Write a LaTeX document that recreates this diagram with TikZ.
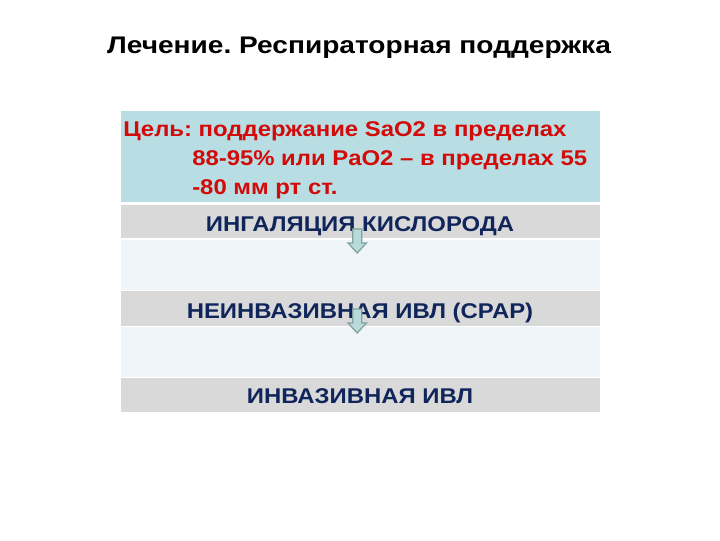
\documentclass[tikz,border=0pt]{standalone}
\usepackage{fontspec}
\setmainfont{Liberation Sans}
\newfontfamily\bodywide[FakeStretch=1.12]{Liberation Sans}
\newfontfamily\titlewide[FakeStretch=1.17]{Liberation Sans}
\definecolor{rowcyan}{RGB}{184,221,226}
\definecolor{rowgray}{RGB}{217,217,217}
\definecolor{rowlight}{RGB}{240,245,249}
\definecolor{goalred}{RGB}{210,10,10}
\definecolor{navytxt}{RGB}{16,38,90}
\definecolor{arrfill}{RGB}{184,218,218}
\definecolor{arrline}{RGB}{130,160,160}
\frenchspacing
\begin{document}
\begin{tikzpicture}[x=0.75pt,y=-0.75pt,
  title/.style={inner sep=0,anchor=base,font=\titlewide\bfseries\fontsize{18}{21}\selectfont,text=black},
  goal/.style={inner sep=0,anchor=base west,font=\bodywide\bfseries\fontsize{16}{19}\selectfont,text=goalred},
  stage/.style={inner sep=0,anchor=base,font=\bodywide\bfseries\fontsize{16}{19}\selectfont,text=navytxt},
  blockarrow/.style={fill=arrfill,draw=arrline,line width=0.9pt,line join=miter}]
\useasboundingbox (0,0) rectangle (720,540);
\fill[white] (0,0) rectangle (720,540);
% rows
\fill[rowcyan]  (121,111) rectangle (600,202);
\fill[rowgray]  (121,205) rectangle (600,238);
\fill[rowlight] (121,240) rectangle (600,290);
\fill[rowgray]  (121,291) rectangle (600,325.5);
\fill[rowlight] (121,327) rectangle (600,377);
\fill[rowgray]  (121,378) rectangle (600,411.5);
% title
\node[title] (t) at (359,53) {Лечение. Респираторная поддержка};
% goal text
\node[goal] (g1) at (123,136) {Цель: поддержание SaO2 в пределах};
\node[goal] (g2) at (192,165.5) {88-95\% или PaO2 – в пределах 55};
\node[goal] (g3) at (192,194) {-80 мм рт ст.};
% stages
\node[stage] (s1) at (360,231) {ИНГАЛЯЦИЯ КИСЛОРОДА};
\node[stage] (s2) at (360,318.3) {НЕИНВАЗИВНАЯ ИВЛ (CPAP)};
\node[stage] (s3) at (360,403.3) {ИНВАЗИВНАЯ ИВЛ};
% arrows
\draw[blockarrow] (352.7,229) -- (361.7,229) -- (361.7,243) -- (366.5,243) -- (357.2,253) -- (348,243) -- (352.7,243) -- cycle;
\draw[blockarrow] (352.7,309) -- (361.7,309) -- (361.7,323) -- (366.5,323) -- (357.2,333) -- (348,323) -- (352.7,323) -- cycle;
\end{tikzpicture}
\end{document}
